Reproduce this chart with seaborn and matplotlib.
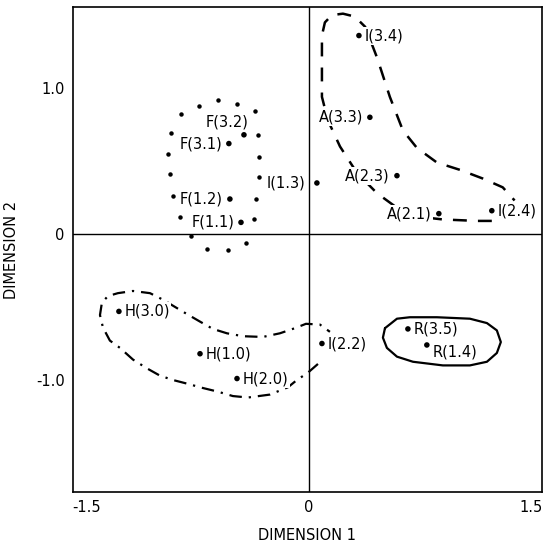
import numpy as np
import pandas as pd
import matplotlib
matplotlib.use("Agg")
import matplotlib.pyplot as plt
import seaborn as sns

# ---- data: stimulus points ----
labels = ["I(3.4)", "A(3.3)", "A(2.3)", "A(2.1)", "I(2.4)", "I(1.3)",
          "F(3.2)", "F(3.1)", "F(1.2)", "F(1.1)",
          "H(3.0)", "H(1.0)", "H(2.0)", "I(2.2)", "R(3.5)", "R(1.4)"]
dim1 = [0.338, 0.412, 0.595, 0.878, 1.236, 0.054,
        -0.439, -0.541, -0.534, -0.459,
        -1.284, -0.736, -0.486, 0.088, 0.669, 0.797]
dim2 = [1.36, 0.80, 0.40, 0.14, 0.16, 0.35,
        0.68, 0.62, 0.24, 0.08,
        -0.53, -0.82, -0.99, -0.75, -0.65, -0.76]
label_side = ["right", "left", "left", "left", "right", "left_far",
              "above", "left", "left", "left",
              "right", "right", "right", "right", "right", "below_right"]

# ---- enclosure outlines ----
f_dots_x = [-0.615, -0.486, -0.743, -0.865, -0.365, -0.932, -0.345, -0.953, -0.338,
            -0.939, -0.338, -0.919, -0.358, -0.872, -0.372, -0.797, -0.689, -0.547,
            -0.426]
f_dots_y = [0.92, 0.89, 0.88, 0.82, 0.84, 0.69, 0.68, 0.55, 0.53, 0.41,
            0.39, 0.26, 0.24, 0.12, 0.10, -0.01, -0.10, -0.11, -0.06]

ia_x = [1.236, 1.135, 0.905, 0.73, 0.595, 0.46, 0.324, 0.21, 0.128, 0.088, 0.088,
        0.088, 0.108, 0.155, 0.23, 0.31, 0.38, 0.46, 0.547, 0.635, 0.73, 0.865,
        1.02, 1.176, 1.31, 1.39]
ia_y = [0.09, 0.09, 0.10, 0.12, 0.18, 0.28, 0.42, 0.60, 0.78, 0.94, 1.19,
        1.36, 1.45, 1.50, 1.51, 1.49, 1.42, 1.21, 0.94, 0.71, 0.59, 0.49,
        0.44, 0.38, 0.32, 0.23]

h_x = [0.061, -0.007, -0.081, -0.142, -0.264, -0.412, -0.514, -0.615, -0.736,
       -0.804, -0.919, -1.007, -1.095, -1.189, -1.277, -1.345, -1.392, -1.412,
       -1.399, -1.358, -1.291, -1.189, -1.074, -0.986, -0.838, -0.736, -0.649,
       -0.554, -0.446, -0.311, -0.196, -0.095, -0.020, 0.074, 0.142]
h_y = [-0.89, -0.95, -1.00, -1.05, -1.10, -1.12, -1.11, -1.08, -1.05, -1.03, -1.00,
       -0.97, -0.92, -0.86, -0.78, -0.73, -0.64, -0.555, -0.47, -0.425, -0.405, -0.39,
       -0.405, -0.45, -0.54, -0.60, -0.65, -0.68, -0.70, -0.705, -0.68, -0.645, -0.615,
       -0.62, -0.67]

r_x = [0.514, 0.595, 0.682, 0.865, 1.088, 1.203, 1.27, 1.297, 1.27, 1.203, 1.088,
       0.905, 0.703, 0.595, 0.527, 0.50, 0.514]
r_y = [-0.645, -0.58, -0.57, -0.57, -0.58, -0.61, -0.66, -0.74, -0.815, -0.875,
       -0.90, -0.90, -0.875, -0.84, -0.78, -0.71, -0.645]

x_ticks = [-1.5, 0, 1.5]
x_ticklabels = ["-1.5", "0", "1.5"]
y_ticks = [1.0, 0, -1.0]
y_ticklabels = ["1.0", "0", "-1.0"]

df = pd.DataFrame({"dim1": dim1, "dim2": dim2, "label": labels, "side": label_side})

sns.set_style("white")
plt.rcParams["font.family"] = ["DejaVu Sans"]
plt.rcParams["text.color"] = "black"
plt.rcParams["axes.labelcolor"] = "black"
plt.rcParams["xtick.color"] = "black"
plt.rcParams["ytick.color"] = "black"
plt.rcParams["lines.scale_dashes"] = False

fig = plt.figure(figsize=(5.44, 5.46), dpi=100)
ax = fig.add_axes([0.134, 0.099, 0.862, 0.888])

ax.axhline(0, color="black", lw=1.0, zorder=1)
ax.axvline(0, color="black", lw=1.0, zorder=1)

sns.scatterplot(data=df, x="dim1", y="dim2", ax=ax, color="black", s=16,
                edgecolor="none", zorder=5, legend=False)

# enclosures
ax.plot(f_dots_x, f_dots_y, "o", color="black", ms=2.2, zorder=3)
ax.plot(ia_x, ia_y, color="black", lw=1.8, linestyle=(0, (10, 8)), zorder=3,
        dash_capstyle="butt")
ax.plot(h_x, h_y, color="black", lw=1.6, linestyle=(0, (9, 5, 1.6, 5)), zorder=3,
        dash_capstyle="butt")
ax.plot(r_x, r_y, color="black", lw=1.6, zorder=3)

offsets = {"right": ((4, 0), "left", "center"),
           "left": ((-5, 0), "right", "center"),
           "left_far": ((-8, 0), "right", "center"),
           "above": ((-12, 9), "center", "center"),
           "below_right": ((4, -5), "left", "center")}
for _, row in df.iterrows():
    off, ha, va = offsets[row["side"]]
    ax.annotate(row["label"], (row["dim1"], row["dim2"]), xytext=off,
                textcoords="offset points", ha=ha, va=va, fontsize=10.5,
                color="black", zorder=6,
                bbox=dict(boxstyle="square,pad=0.1", fc="white", ec="none"))

ax.set_xlim(-1.595, 1.574)
ax.set_ylim(-1.767, 1.555)
ax.set_xticks(x_ticks)
ax.set_xticklabels(x_ticklabels)
ax.set_yticks(y_ticks)
ax.set_yticklabels(y_ticklabels)
ax.tick_params(length=0, labelsize=10.5, pad=6)
ax.set_xlabel("DIMENSION 1", fontsize=10.5, labelpad=9)
ax.set_ylabel("DIMENSION 2", fontsize=10.5, labelpad=12)
for s in ax.spines.values():
    s.set_color("black")
    s.set_linewidth(1.2)

fig.savefig("out.png", dpi=100)
